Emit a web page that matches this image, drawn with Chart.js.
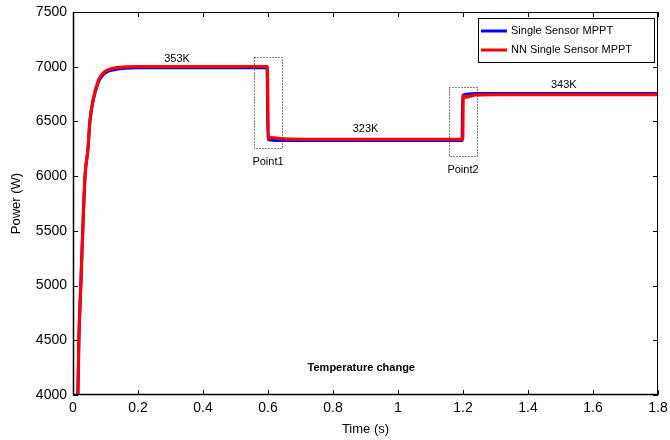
<!DOCTYPE html>
<html>
<head>
<meta charset="utf-8">
<script src="https://cdn.jsdelivr.net/npm/chart.js@4.4.1/dist/chart.umd.min.js"></script>
<style>
  html, body { margin: 0; padding: 0; background: #fff; }
  #wrap { width: 670px; height: 440px; }
</style>
</head>
<body>
<div id="wrap"><canvas id="powerChart"></canvas></div>
<script>
// series
const timeBlue  = [0.010, 0.015, 0.018, 0.024, 0.030, 0.037, 0.046, 0.052, 0.062, 0.077, 0.088, 0.100, 0.115, 0.135, 0.160, 0.200, 0.597, 0.600, 0.640, 1.197, 1.199, 1.240, 1.800];
const powerBlue = [3600, 4000, 4500, 5000, 5500, 6000, 6250, 6500, 6690, 6850, 6910, 6945, 6965, 6978, 6986, 6990, 6990, 6335, 6325, 6325, 6740, 6755, 6755];

const timeRed  = [0.010, 0.015, 0.018, 0.024, 0.030, 0.037, 0.046, 0.052, 0.062, 0.077, 0.088, 0.100, 0.115, 0.135, 0.160, 0.200, 0.598, 0.601, 0.610, 0.650, 0.750, 1.199, 1.201, 1.207, 1.240, 1.300, 1.800];
const powerRed = [3600, 4000, 4500, 5000, 5500, 6000, 6250, 6500, 6700, 6865, 6925, 6960, 6980, 6992, 6998, 7002, 7002, 6345, 6352, 6340, 6336, 6336, 6735, 6722, 6742, 6745, 6745];

const xTickLabels = ["0", "0.2", "0.4", "0.6", "0.8", "1", "1.2", "1.4", "1.6", "1.8"];
const yTickLabels = ["4000", "4500", "5000", "5500", "6000", "6500", "7000", "7500"];

const seriesNames = ["Single Sensor MPPT", "NN Single Sensor MPPT"];
const seriesColors = ["#0000ff", "#ff0000"];

const noteTexts = ["353K", "323K", "343K", "Point1", "Point2"];
const noteX = [0.32, 0.90, 1.51, 0.60, 1.20];
const noteY = [7070, 6435, 6830, 6125, 6055];

const boxX1 = [0.557, 1.157];
const boxX2 = [0.643, 1.243];
const boxY1 = [6255, 6180];
const boxY2 = [7090, 6815];

const footNote = "Temperature change";
const footX = 0.887, footY = 4250;

const fontName = "'Liberation Sans', Arial, sans-serif";

function toPoints(xs, ys) {
    return xs.map((x, i) => ({ x: x, y: ys[i] }));
}

const frameAndNotes = {
    id: "frameAndNotes",
    afterDatasetsDraw(chart) {
        const ctx = chart.ctx;
        const a = chart.chartArea;
        const xs = chart.scales.x, ys = chart.scales.y;
        ctx.save();

        // dotted boxes
        ctx.strokeStyle = "#000";
        ctx.lineWidth = 1;
        ctx.setLineDash([1, 2]);
        boxX1.forEach((bx, i) => {
            const l = xs.getPixelForValue(bx), r = xs.getPixelForValue(boxX2[i]);
            const b = ys.getPixelForValue(boxY1[i]), t = ys.getPixelForValue(boxY2[i]);
            ctx.strokeRect(Math.round(l) + 0.5, Math.round(t) + 0.5, Math.round(r - l), Math.round(b - t));
        });
        ctx.setLineDash([]);

        // frame with inward ticks
        ctx.strokeStyle = "#000";
        ctx.lineWidth = 1;
        ctx.strokeRect(a.left + 0.5, a.top + 0.5, a.right - a.left - 1, a.bottom - a.top - 1);
        ctx.beginPath();
        xTickLabels.forEach(lbl => {
            const px = Math.round(xs.getPixelForValue(parseFloat(lbl))) + 0.5;
            ctx.moveTo(px, a.bottom); ctx.lineTo(px, a.bottom - 5);
            ctx.moveTo(px, a.top); ctx.lineTo(px, a.top + 5);
        });
        yTickLabels.forEach(lbl => {
            const py = Math.round(ys.getPixelForValue(parseFloat(lbl))) + 0.5;
            ctx.moveTo(a.left, py); ctx.lineTo(a.left + 5, py);
            ctx.moveTo(a.right, py); ctx.lineTo(a.right - 5, py);
        });
        ctx.stroke();
        ctx.lineWidth = 1.5;
        ctx.beginPath();
        ctx.moveTo(a.left, a.bottom - 0.5); ctx.lineTo(a.right, a.bottom - 0.5);
        ctx.moveTo(a.left + 0.5, a.top); ctx.lineTo(a.left + 0.5, a.bottom);
        ctx.stroke();

        // notes
        ctx.fillStyle = "#000";
        ctx.textAlign = "center";
        ctx.textBaseline = "middle";
        ctx.font = "11px " + fontName;
        noteTexts.forEach((txt, i) => {
            ctx.fillText(txt, xs.getPixelForValue(noteX[i]), ys.getPixelForValue(noteY[i]));
        });
        ctx.font = "bold 11px " + fontName;
        ctx.fillText(footNote, xs.getPixelForValue(footX), ys.getPixelForValue(footY));

        // legend box
        const lx = 478, ly = 18, lw = 176, lh = 44;
        ctx.fillStyle = "#fff";
        ctx.fillRect(lx, ly, lw, lh);
        ctx.strokeStyle = "#000";
        ctx.lineWidth = 1;
        ctx.strokeRect(lx + 0.5, ly + 0.5, lw, lh);
        ctx.font = "11px " + fontName;
        ctx.textAlign = "left";
        seriesNames.forEach((name, i) => {
            const yy = ly + 13 + i * 19;
            ctx.strokeStyle = seriesColors[i];
            ctx.lineWidth = 3;
            ctx.beginPath();
            ctx.moveTo(lx + 3, yy); ctx.lineTo(lx + 29, yy);
            ctx.stroke();
            ctx.fillStyle = "#000";
            ctx.fillText(name, lx + 33, yy);
        });
        ctx.restore();
    }
};

new Chart(document.getElementById("powerChart"), {
    type: "line",
    data: {
        datasets: [
            { label: seriesNames[0], data: toPoints(timeBlue, powerBlue), borderColor: seriesColors[0], borderWidth: 3, pointRadius: 0, cubicInterpolationMode: "monotone", order: 2 },
            { label: seriesNames[1], data: toPoints(timeRed, powerRed), borderColor: seriesColors[1], borderWidth: 3.2, pointRadius: 0, cubicInterpolationMode: "monotone", order: 1 }
        ]
    },
    options: {
        responsive: true,
        maintainAspectRatio: false,
        animation: false,
        layout: { padding: { top: 12, right: 12, left: 0, bottom: 0 } },
        plugins: { legend: { display: false }, tooltip: { enabled: false } },
        scales: {
            x: {
                type: "linear", min: 0, max: 1.8,
                afterBuildTicks: s => { s.ticks = xTickLabels.map(v => ({ value: parseFloat(v) })); },
                afterFit: s => { s.height = 45; s.paddingLeft = 0; s.paddingRight = 0; },
                grid: { display: false, drawTicks: false },
                border: { display: false },
                ticks: {
                    color: "#000", padding: 5, maxRotation: 0, autoSkip: false,
                    font: { family: fontName, size: 14 },
                    callback: (v, i) => xTickLabels[i]
                },
                title: { display: true, text: "Time (s)", color: "#000", font: { family: fontName, size: 13 }, padding: { top: 2, bottom: 3 } }
            },
            y: {
                min: 4000, max: 7500,
                afterBuildTicks: s => { s.ticks = yTickLabels.map(v => ({ value: parseFloat(v) })); },
                afterFit: s => { s.width = 73; s.paddingTop = 0; s.paddingBottom = 0; },
                grid: { display: false, drawTicks: false },
                border: { display: false },
                ticks: {
                    color: "#000", padding: 6, autoSkip: false,
                    font: { family: fontName, size: 14 },
                    callback: (v, i) => yTickLabels[i]
                },
                title: { display: true, text: "Power (W)", color: "#000", font: { family: fontName, size: 13 }, padding: { top: 9, bottom: 4 } }
            }
        }
    },
    plugins: [frameAndNotes]
});
</script>
</body>
</html>
